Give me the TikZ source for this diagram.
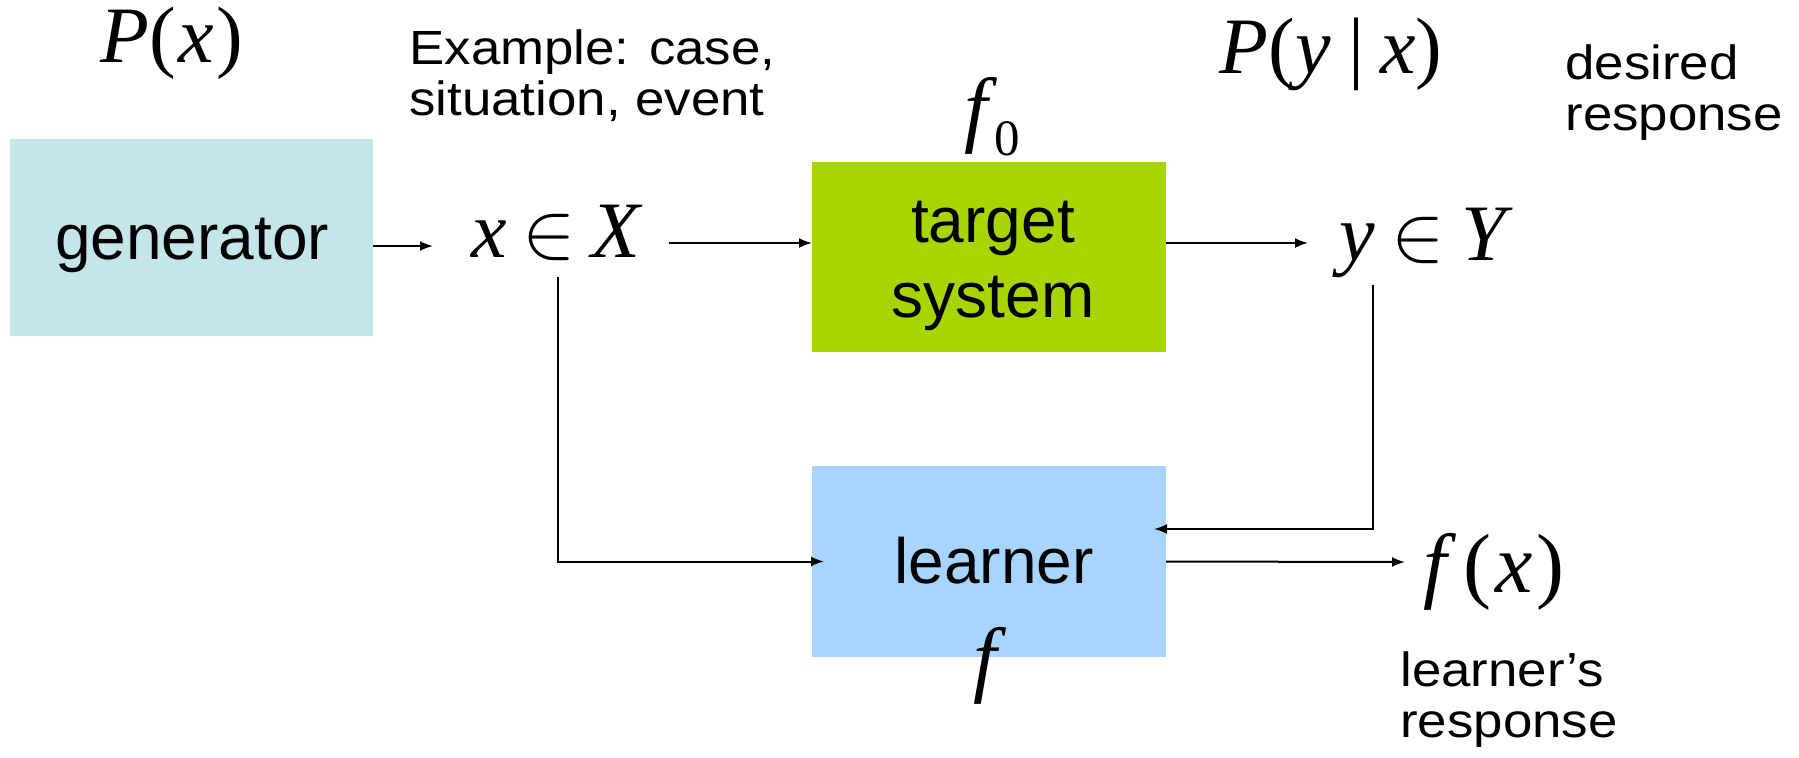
\documentclass[tikz,border=0pt]{standalone}
\usepackage{fix-cm}
\usepackage{fontspec}
\setmainfont{Liberation Sans}
\newfontfamily\mathserif{Liberation Serif}
\newfontfamily\notefont{Liberation Sans}[FakeStretch=1.1]
\usetikzlibrary{arrows.meta}

% italic and upright letters for the formulas
\newcommand\mi[1]{{\mathserif\itshape #1}}
\newcommand\up[1]{{\mathserif #1}}

\definecolor{genfill}{RGB}{196,230,232}
\definecolor{tgtfill}{RGB}{168,212,0}
\definecolor{lrnfill}{RGB}{168,213,255}

\tikzset{
  box/.style={rectangle, draw=none, inner sep=0pt, outer sep=0pt},
  boxtext/.style={font=\fontsize{32}{37.5}\selectfont, inner sep=0pt, align=center},
  note/.style={font=\notefont\fontsize{24}{25.5}\selectfont, inner sep=0pt, align=left},
  formula/.style={font=\fontsize{40}{42}\selectfont, inner sep=0pt},
  bigf/.style={font=\fontsize{42}{44}\selectfont, inner sep=0pt},
  arr/.style={line width=1pt, -{Latex[length=6.5pt,width=5pt]}},
}

\begin{document}
\begin{tikzpicture}[x=0.5pt, y=-0.5pt]
\useasboundingbox (0,0) rectangle (1799,757);

% blocks
\node[box, fill=genfill, minimum width=181.5pt, minimum height=98.5pt] (gen) at (191.5,237.5) {};
\node[box, fill=tgtfill, minimum width=177pt, minimum height=95pt] (tgt) at (989,257) {};
\node[box, fill=lrnfill, minimum width=177pt, minimum height=95.5pt] (lrn) at (989,561.5) {};

\node[boxtext, anchor=base] (gentext) at (192,259) {generator};
\node[boxtext] (tgttext) at (993,266) {target\\system};
\node[boxtext, anchor=base] (lrntext) at (994,583) {learner};

% formulas
\node[formula, anchor=base] (px) at (172,62) {\mi{P}\up{(}\kern.03em\mi{x}\kern.03em\up{)}};
\node[formula, anchor=base] (pyx) at (1331,73) {\mi{P}\up{(}\mi{y}\kern.22em\up{|}\kern.2em\mi{x}\up{)}};
\node[formula, anchor=base] (xX) at (556,257) {\mi{x}\kern.2em$\in$\kern.2em\mi{X}};
\node[formula, anchor=base] (yY) at (1423,260) {\mi{y}\kern.2em$\in$\kern.22em\mi{Y}};
\node[bigf, anchor=base] (f0) at (992,136) {\mi{f}\kern.08em\raisebox{-9.5pt}{\fontsize{25.5}{27}\selectfont\up{0}}};
\node[bigf, anchor=base] (fx) at (1494,592) {\mi{f}\kern.2em\up{(}\kern.05em\mi{x}\kern.05em\up{)}};
\node[bigf, anchor=base] (flrn) at (985,686) {\mi{f}};

% notes
\node[note, anchor=north west] (example) at (409,29) {Example: case,\\situation, event};
\node[note, anchor=north west] (desired) at (1565,44) {desired\\response};
\node[note, anchor=north west] (lresp) at (1400,651) {learner’s\\response};

% connector ends
\coordinate (xXin) at (433,246);
\coordinate (xXout) at (669,243);
\coordinate (yYin) at (1308,243);
\coordinate (xXdrop) at (558,277);
\coordinate (yYdrop) at (1373,285);
\coordinate (fxin) at (1405,562);

% connectors
\draw[arr] ([yshift=-4.25pt]gen.east) -- (xXin);
\draw[arr] (xXout) -- (xXout -| tgt.west);
\draw[arr] (yYin -| tgt.east) -- (yYin);
\draw[arr] (xXdrop) |- ([xshift=6pt]lrn.west);
\draw[arr] (yYdrop) |- ([xshift=-6pt, yshift=16.25pt]lrn.east);
\draw[arr] (lrn.east) -- (fxin);
\end{tikzpicture}
\end{document}
